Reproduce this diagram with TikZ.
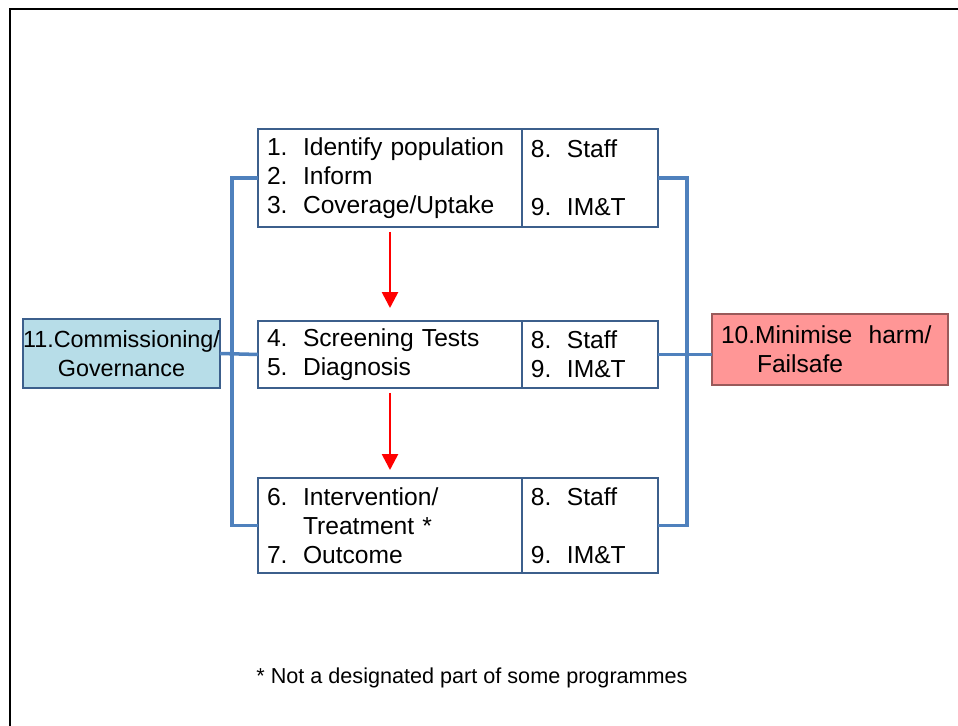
\documentclass[tikz,border=0pt]{standalone}
\usepackage{fontspec}
\setmainfont{Liberation Sans}
\usepackage{tikz}
\usetikzlibrary{arrows.meta,positioning}
\definecolor{linkblue}{RGB}{79,129,189}
\definecolor{boxline}{RGB}{60,95,140}
\definecolor{govfill}{RGB}{183,221,232}
\definecolor{harmfill}{RGB}{255,150,150}
\newcommand{\itm}[2]{\makebox[0.72cm][l]{#1}#2}
\tikzset{cell/.style={draw=boxline, line width=0.7pt, outer sep=0pt, inner xsep=0.18cm, align=left,
  font=\fontsize{14pt}{16.5pt}\selectfont}}
\tikzstyle{wide}=[cell, minimum width=5.28cm, text width=4.92cm]
\tikzstyle{narrow}=[cell, minimum width=2.72cm, text width=2.36cm]
\tikzstyle{link}=[linkblue, line width=2pt]
\tikzstyle{flow}=[red, line width=1.5pt, -{Triangle[width=9pt,length=9pt]}]

\begin{document}
\begin{tikzpicture}[x=0.02cm, y=-0.02cm]
\useasboundingbox (0,0) rectangle (958,726);
\draw[line width=1.2pt] (10,726) -- (10,9) -- (958,9);
% stages
\node[wide, minimum height=1.96cm] (pop) at (390,178)
  {\itm{1.}{Identify population}\\ \itm{2.}{Inform}\\ \itm{3.}{Coverage/Uptake}};
\node[narrow, minimum height=1.96cm, right=0pt of pop] (resA)
  {\itm{8.}{Staff}\\[0.58cm] \itm{9.}{IM\&T}};
\node[wide, minimum height=1.34cm] (test) at (390,354.5)
  {\itm{4.}{Screening Tests}\\ \itm{5.}{Diagnosis}};
\node[narrow, minimum height=1.34cm, right=0pt of test] (resB)
  {\itm{8.}{Staff}\\ \itm{9.}{IM\&T}};
\node[wide, minimum height=1.9cm] (treat) at (390,525.5)
  {\itm{6.}{Intervention/}\\ \itm{}{Treatment *}\\ \itm{7.}{Outcome}};
\node[narrow, minimum height=1.9cm, right=0pt of treat] (resC)
  {\itm{8.}{Staff}\\[0.58cm] \itm{9.}{IM\&T}};
% side boxes
\node[cell, fill=govfill, align=center, inner xsep=0pt, minimum width=3.94cm, minimum height=1.38cm,
  font=\fontsize{13.3pt}{16.5pt}\selectfont] (gov) at (121.5,353.5) {11.Commissioning/\\Governance};
\node[cell, fill=harmfill, draw=harmfill!60!black, minimum width=4.72cm, text width=4.36cm,
  minimum height=1.42cm] (harm) at (830,349.5) {10.Minimise~~harm/\\ \itm{}{Failsafe}};
% connectors
\draw[link] (gov.east) -- (test.west);
\draw[link] (pop.west) -- ++(-26,0) |- (treat.west);
\draw[link] (resA.east) -- ++(29,0) |- (resC.east);
\draw[link] (resB.east) -- (resB.east -| harm.west);
\draw[flow, shorten <=0.1cm, shorten >=0.26cm] (pop.south) -- (test.north);
\draw[flow, shorten <=0.1cm, shorten >=0.16cm] (test.south) -- (treat.north);
\node[font=\fontsize{12.3pt}{15pt}\selectfont] (note) at (472,678) {* Not a designated part of some programmes};
\end{tikzpicture}
\end{document}
